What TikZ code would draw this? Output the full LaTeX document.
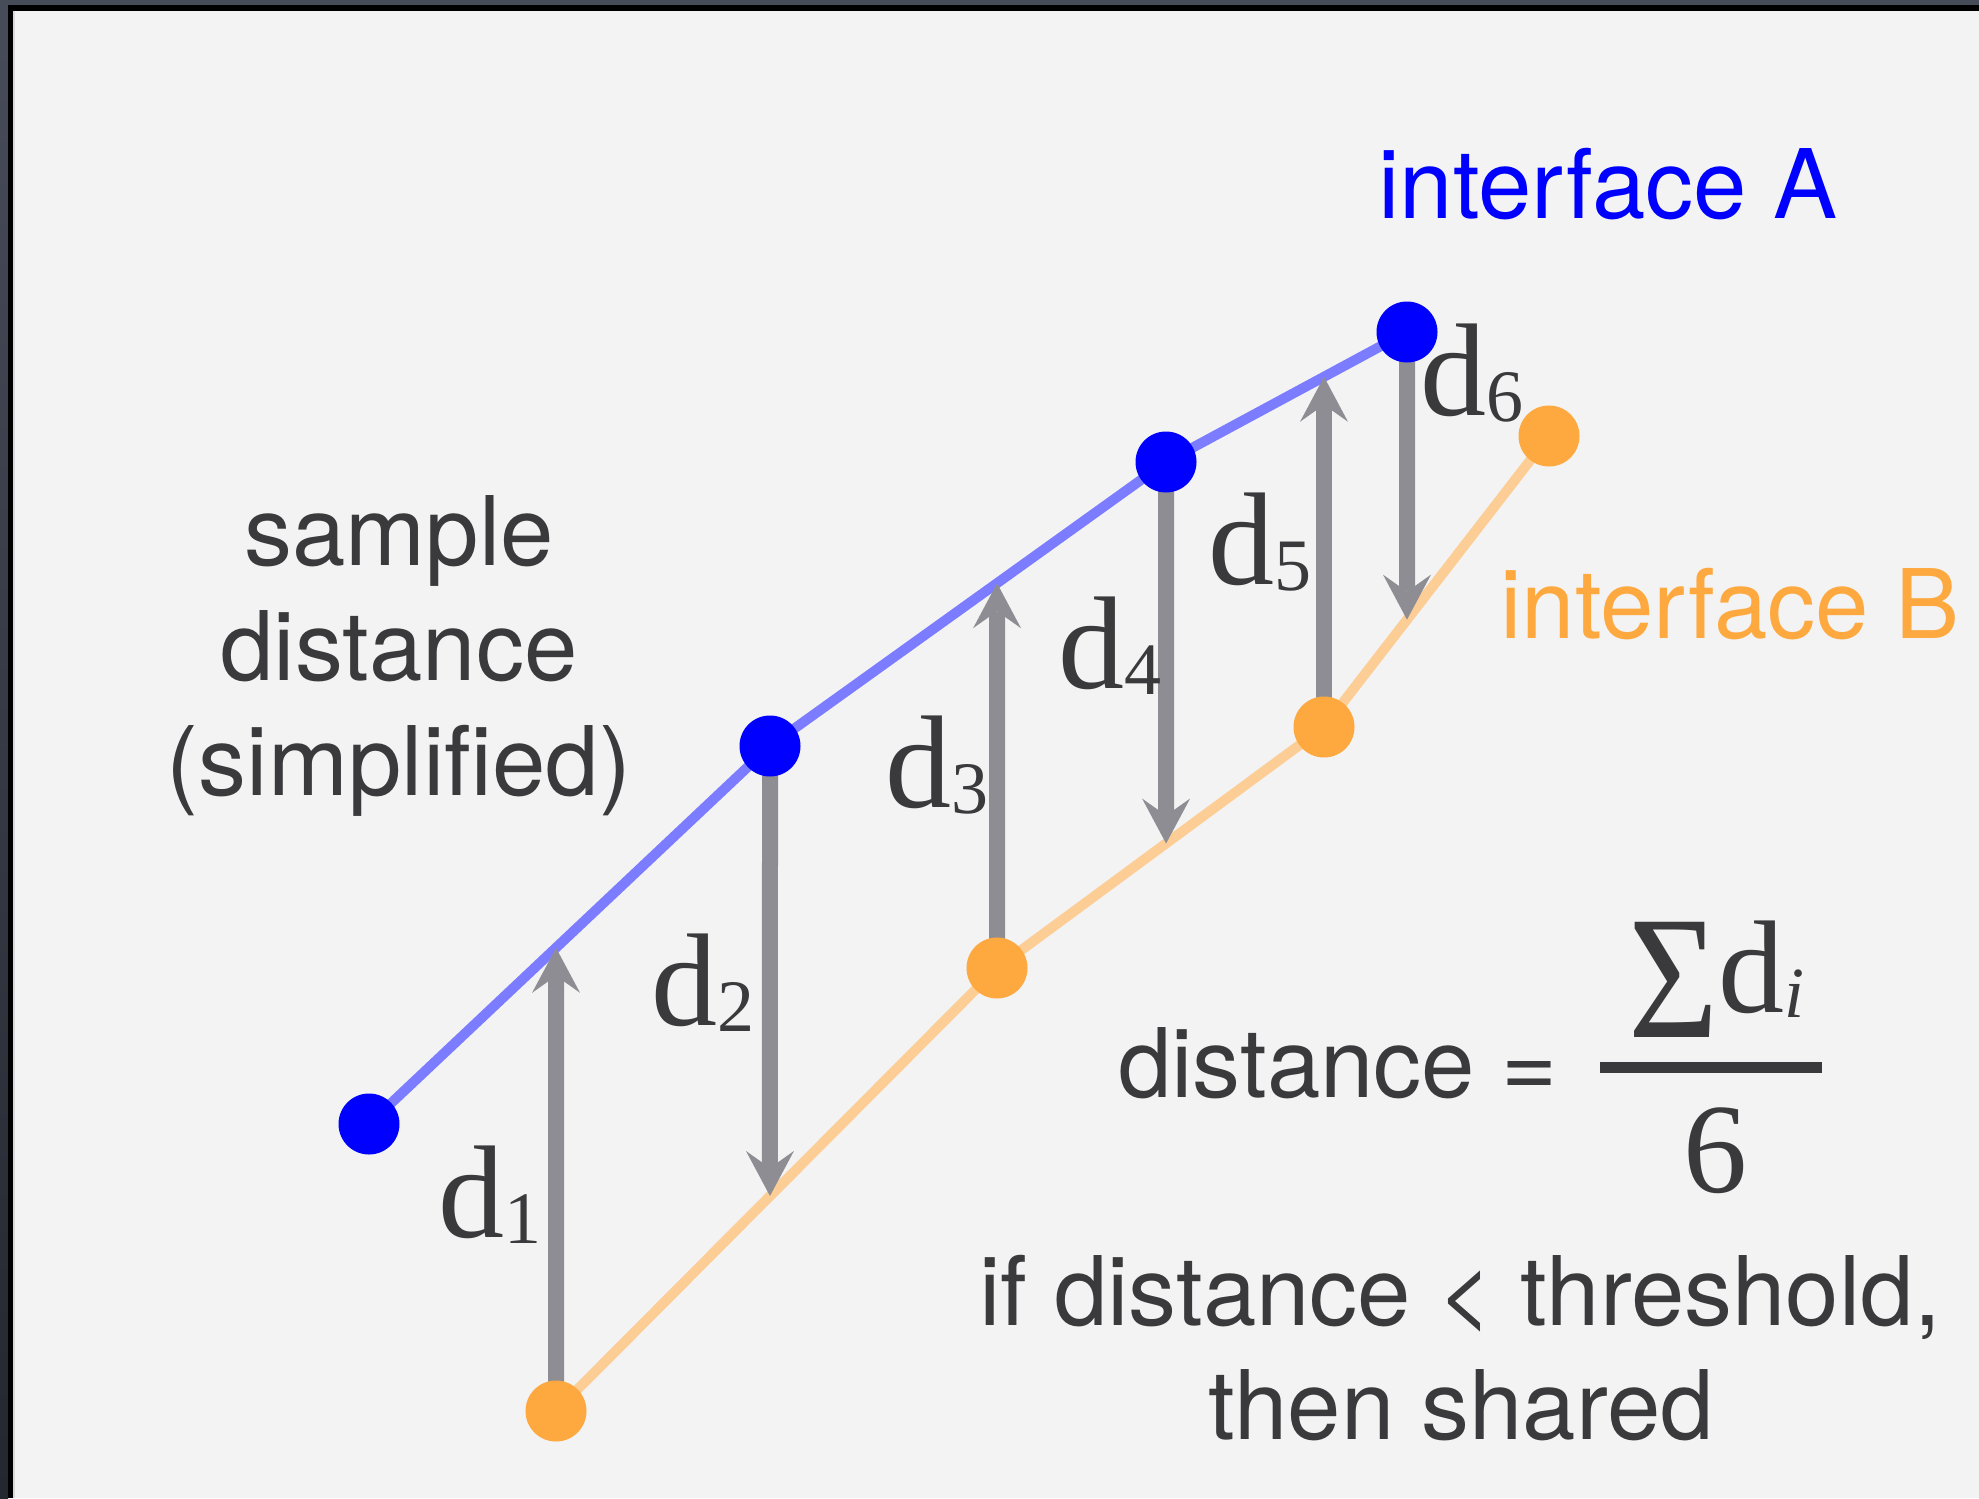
\documentclass[tikz,border=0pt]{standalone}
\usepackage{fontspec}
\setmainfont{TeX Gyre Heros}
\newfontfamily\tms{Liberation Serif}
\usetikzlibrary{arrows.meta,calc}
\definecolor{bgc}{HTML}{F3F3F3}
\definecolor{slate}{HTML}{474C59}
\definecolor{slatedk}{HTML}{23272F}
\definecolor{lblue}{HTML}{7B7CFF}
\definecolor{lorange}{HTML}{FCCE96}
\definecolor{dorange}{HTML}{FEA93F}
\definecolor{dblue}{HTML}{0000FF}
\definecolor{agray}{HTML}{8E8D93}
\definecolor{txt}{HTML}{3A3A3C}
\newcommand{\dlab}[1]{{\tms\fontsize{66}{66}\selectfont d\raisebox{-3pt}{\fontsize{37}{37}\selectfont #1}}}
\begin{document}
\begin{tikzpicture}[x=0.5pt,y=-0.5pt,
  bdot/.style={circle,fill=dblue,minimum size=30.5pt,inner sep=0pt},
  odot/.style={circle,fill=dorange,minimum size=30.5pt,inner sep=0pt},
  aline/.style={draw=lblue,line width=5pt,line join=round},
  bline/.style={draw=lorange,line width=5pt,line join=round},
  darrow/.style={draw=agray,line width=8pt,-{Stealth[length=22.5pt,width=24pt,inset=8.5pt,line width=0pt,fill=agray]}},
  lab/.style={inner sep=0pt,anchor=base,text=txt},
  sans/.style={inner sep=0pt,anchor=base,font=\fontsize{48}{57.5}\selectfont}
]
\useasboundingbox (0,0) rectangle (1979,1498);
% frame
\fill[slate] (0,0) rectangle (1979,1498);
\shade[top color=slate,bottom color=slatedk] (0,0) rectangle (8,1498);
\fill[black] (8,5) rectangle (1979,1498);
\fill[black!15] (12.7,10.7) rectangle (1979,1498);
\fill[bgc] (14.5,10.7) rectangle (1979,1498);

% points
\coordinate (a1) at (369,1124);
\coordinate (a2) at (770,746);
\coordinate (a3) at (1166,462);
\coordinate (a4) at (1407,332);
\coordinate (b1) at (556,1411);
\coordinate (b2) at (997,968);
\coordinate (b3) at (1324,727);
\coordinate (b4) at (1549,436);
\foreach \p in {a1,a2,a3,a4,b1,b2,b3,b4}{\coordinate (\p u) at ($(\p)+(0,-100)$);}

% interface lines
\draw[aline] (a1) -- (a2) -- (a3) -- (a4);
\draw[bline] (b1) -- (b2) -- (b3) -- (b4);

% arrow tips on the opposite line
\coordinate (t1) at (intersection of a1--a2 and b1--b1u);
\coordinate (t2) at (intersection of b1--b2 and a2--a2u);
\coordinate (t3) at (intersection of a2--a3 and b2--b2u);
\coordinate (t4) at (intersection of b2--b3 and a3--a3u);
\coordinate (t5) at (intersection of a3--a4 and b3--b3u);
\coordinate (t6) at (intersection of b3--b4 and a4--a4u);

\draw[darrow] (b1) -- (t1);
\draw[darrow] (a2) -- (t2);
\draw[darrow] (b2) -- (t3);
\draw[darrow] (a3) -- (t4);
\draw[darrow] (b3) -- (t5);
\draw[darrow] (a4) -- (t6);

% dots
\node[bdot] (A1) at (a1) {};
\node[bdot] (A2) at (a2) {};
\node[bdot] (A3) at (a3) {};
\node[bdot] (A4) at (a4) {};
\node[odot] (B1) at (b1) {};
\node[odot] (B2) at (b2) {};
\node[odot] (B3) at (b3) {};
\node[odot] (B4) at (b4) {};

% d labels
\node[lab] (l1) at (490,1237) {\dlab{1}};
\node[lab] (l2) at (703,1025) {\dlab{2}};
\node[lab] (l3) at (937,807) {\dlab{3}};
\node[lab] (l4) at (1110,688) {\dlab{4}};
\node[lab] (l5) at (1260,584) {\dlab{5}};
\node[lab] (l6) at (1472,415) {\dlab{6}};

% titles
\node[sans,text=dblue] (ia) at (1608,219) {interface A};
\node[sans,text=dorange] (ib) at (1730,638) {interface B};
\node[sans,text=txt] (s1) at (399,565) {sample};
\node[sans,text=txt] (s2) at (399,680) {distance};
\node[sans,text=txt] (s3) at (399,795) {(simplified)};

% formula
\node[sans,text=txt] (deq) at (1338,1097) {distance =};
\draw[txt,line width=5.5pt] (1600,1067) -- (1822,1067);
\node[lab] (sig) at (1674,1037) {\tms\fontsize{88}{88}\selectfont\scalebox{0.88}[1]{Σ}};
\node[lab,anchor=base west] (num) at (1718,1012) {\tms\fontsize{66}{66}\selectfont d\raisebox{-2.5pt}{\itshape\fontsize{36}{36}\selectfont i}};
\node[lab] (den) at (1715.5,1192) {\tms\fontsize{64}{64}\selectfont 6};

\node[sans,text=txt] (c1) at (1460,1325) {if distance < threshold,};
\node[sans,text=txt] (c2) at (1461,1439) {then shared};
\end{tikzpicture}
\end{document}
